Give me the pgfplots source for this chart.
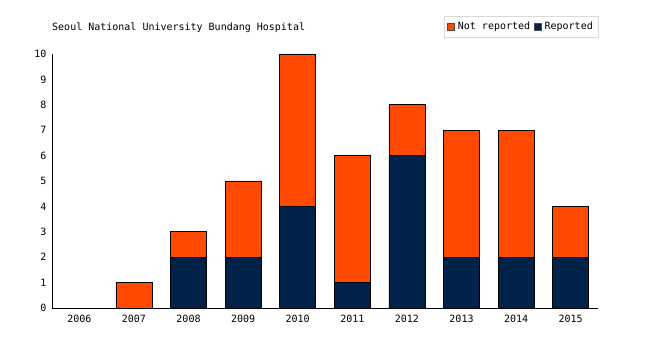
\documentclass[border=0pt]{standalone}
\usepackage{pgfplots}
\pgfplotsset{compat=1.18}
\usepackage{fontspec}
\setmainfont{DejaVu Sans Mono}
\setmonofont{DejaVu Sans Mono}
\definecolor{notrep}{HTML}{FF4A00}
\definecolor{rep}{HTML}{012249}
\begin{document}
\begin{tikzpicture}[x=1pt,y=1pt]
\path[use as bounding box] (0,0) rectangle (650,350);
\node[anchor=west,font=\fontsize{10}{12}\selectfont,inner sep=0pt] at (52,322) {Seoul National University Bundang Hospital};
\begin{axis}[
  at={(52pt,42pt)}, anchor=south west,
  scale only axis, width=546pt, height=254pt,
  ybar stacked, bar width=36pt,
  xmin=-0.5, xmax=9.5, ymin=0, ymax=10,
  xtick={0,...,9},
  xticklabels={2006,2007,2008,2009,2010,2011,2012,2013,2014,2015},
  ytick={0,...,10},
  axis x line*=bottom, axis y line*=left,
  axis line style={black, line width=0.8pt, -},
  major tick length=0pt,
  tick label style={font=\fontsize{10}{12}\selectfont},
  /pgf/number format/assume math mode=true,
  xticklabel style={yshift=-4pt},
  yticklabel style={xshift=-2pt},
  legend columns=2,
  reverse legend,
  legend style={at={(1,1.1496)}, anchor=north east, draw=black!15, font=\fontsize{10}{12}\selectfont, inner xsep=3pt, inner ysep=4pt, /tikz/every even column/.append style={column sep=2pt}, /tikz/every odd column/.append style={column sep=1pt}},
  legend image code/.code={\draw[#1, draw=black!70, line width=0.5pt] (0pt,-3.5pt) rectangle (7pt,3.5pt);},
  legend cell align=left,
  clip=false,
]
\addplot[fill=rep, draw=black, line width=0.6pt] coordinates {(0,0) (1,0) (2,2) (3,2) (4,4) (5,1) (6,6) (7,2) (8,2) (9,2)};
\addlegendentry{Reported}
\addplot[fill=notrep, draw=black, line width=0.6pt] coordinates {(0,0) (1,1) (2,1) (3,3) (4,6) (5,5) (6,2) (7,5) (8,5) (9,2)};
\addlegendentry{Not reported}
\end{axis}
\end{tikzpicture}
\end{document}
